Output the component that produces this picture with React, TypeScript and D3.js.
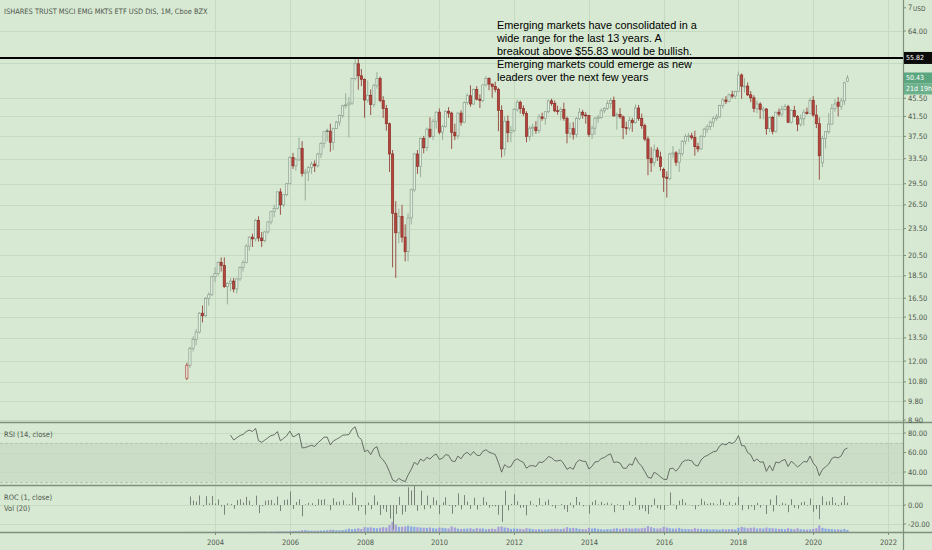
import { useEffect, useRef } from 'react';
import * as d3 from 'd3';

// 图表尺寸
const W = 932;
const H = 550;

const TITLE = 'ISHARES TRUST MSCI EMG MKTS ETF USD DIS, 1M, Cboe BZX';
const NOTE_LINES = [
  'Emerging markets have consolidated in a',
  'wide range for the last 13 years. A',
  'breakout above $55.83 would be bullish.',
  'Emerging markets could emerge as new',
  'leaders over the next few years',
];

const priceTicks = [8.9, 9.8, 10.8, 12, 13.5, 15, 16.5, 18.5, 20.5, 23.5, 26.5, 29.5, 33.5, 37.5, 41.5, 45.5, 54.5, 64];
const hiddenTicks = [54.5]; // 被价格标签遮住
const topTick = 72;
const rsiTicks = [40, 60, 80];
const rocTicks = [-20, 0];
const yearTicks = [2004, 2006, 2008, 2010, 2012, 2014, 2016, 2018, 2020, 2022];

const LEVEL = 55.82;
const LAST = 50.43;
const COUNTDOWN = '21d 19h';

// 月线从 2003 年 4 月开始
const FIRST_YEAR = 2003;
const FIRST_MONTH = 3;

// [open, high, low, close]
const ohlc: [number, number, number, number][] = [
  // 2003
  [11.0, 11.9, 10.9, 11.75], [11.75, 12.9, 11.6, 12.8], [12.8, 13.6, 12.6, 13.4], [13.4, 14.1, 13.0, 13.9],
  [13.9, 15.4, 13.8, 15.3], [15.3, 15.9, 14.6, 15.1], [15.1, 16.6, 15.0, 16.5], [16.5, 17.0, 15.9, 16.8],
  [16.8, 18.5, 16.7, 18.4],
  // 2004
  [18.4, 19.3, 17.9, 18.7], [18.7, 19.9, 18.5, 19.8], [19.8, 20.3, 18.9, 19.5], [19.5, 20.3, 17.4, 17.5],
  [17.5, 17.9, 16.0, 17.8], [17.8, 18.3, 17.1, 18.0], [18.0, 18.3, 17.0, 17.3], [17.3, 18.3, 16.9, 18.2],
  [18.2, 19.4, 18.0, 19.3], [19.3, 20.0, 18.9, 19.8], [19.8, 21.7, 19.7, 21.5], [21.5, 22.6, 21.0, 22.5],
  // 2005
  [22.5, 22.9, 21.4, 22.3], [22.3, 24.7, 22.0, 24.5], [24.5, 25.0, 22.0, 22.4], [22.4, 23.1, 21.4, 22.1],
  [22.1, 23.2, 21.9, 23.1], [23.1, 24.4, 22.9, 24.3], [24.3, 25.7, 24.0, 25.6], [25.6, 26.5, 24.9, 26.0],
  [26.0, 28.4, 25.9, 28.3], [28.3, 28.8, 25.2, 26.5], [26.5, 28.0, 26.2, 27.9], [27.9, 29.6, 27.7, 29.5],
  // 2006
  [29.5, 33.9, 29.4, 33.7], [33.7, 34.5, 31.8, 32.3], [32.3, 33.6, 31.5, 33.3], [33.3, 37.3, 33.1, 35.3],
  [35.3, 36.6, 30.6, 31.1], [31.1, 31.8, 27.1, 31.3], [31.3, 32.3, 29.9, 32.0], [32.0, 33.0, 31.0, 32.6],
  [32.6, 33.2, 31.3, 32.3], [32.3, 34.5, 32.0, 34.3], [34.3, 36.4, 33.6, 36.2], [36.2, 38.2, 35.4, 38.4],
  // 2007
  [38.6, 39.0, 36.6, 38.5], [38.5, 40.0, 34.7, 36.4], [36.4, 39.2, 35.0, 39.0], [39.0, 40.6, 38.9, 40.3],
  [40.3, 41.9, 39.6, 41.7], [41.7, 44.0, 41.2, 43.8], [43.8, 46.7, 43.2, 44.0], [44.0, 45.8, 37.3, 44.4],
  [44.4, 50.5, 44.0, 50.3], [50.3, 56.0, 49.8, 54.2], [54.2, 55.8, 47.5, 51.0], [51.0, 52.8, 48.4, 50.1],
  // 2008
  [50.1, 50.3, 41.2, 45.1], [45.1, 49.8, 44.5, 46.2], [46.2, 47.6, 41.8, 44.1], [44.1, 48.9, 43.5, 48.6],
  [48.6, 52.0, 47.8, 50.3], [50.3, 50.8, 44.6, 45.0], [45.0, 46.0, 41.2, 43.2], [43.2, 44.0, 38.6, 40.0],
  [40.0, 40.2, 31.3, 34.3], [34.3, 35.0, 19.3, 25.4], [25.4, 27.0, 18.3, 23.0], [23.0, 26.0, 21.8, 25.0],
  // 2009
  [25.0, 26.5, 21.9, 22.5], [22.5, 24.0, 19.9, 20.9], [20.9, 25.4, 19.9, 24.8], [24.8, 28.8, 24.0, 28.6],
  [28.6, 34.5, 28.3, 34.3], [34.3, 35.0, 31.0, 32.2], [32.2, 37.3, 30.5, 37.1], [37.1, 37.6, 34.4, 35.4],
  [35.4, 39.2, 34.8, 38.9], [38.9, 41.3, 37.2, 37.5], [37.5, 41.0, 36.8, 40.5], [40.5, 42.6, 39.0, 42.4],
  // 2010
  [42.4, 43.2, 37.9, 38.3], [38.3, 39.8, 36.8, 39.4], [39.4, 42.8, 39.2, 42.6], [42.6, 43.5, 41.2, 42.2],
  [42.2, 42.5, 35.2, 38.3], [38.3, 40.0, 36.8, 37.6], [37.6, 42.4, 37.0, 42.2], [42.2, 42.8, 39.6, 40.3],
  [40.3, 44.8, 40.1, 44.5], [44.5, 46.6, 44.0, 46.1], [46.1, 48.6, 43.6, 44.2], [44.2, 47.8, 44.0, 47.6],
  // 2011
  [47.6, 48.4, 45.0, 45.3], [45.3, 46.4, 43.3, 45.0], [45.0, 48.8, 44.6, 48.7], [48.7, 50.9, 48.3, 50.3],
  [50.3, 50.6, 47.4, 48.9], [48.9, 49.0, 45.6, 48.3], [48.3, 49.5, 46.9, 47.6], [47.6, 48.0, 38.5, 42.8],
  [42.8, 43.9, 33.7, 35.2], [35.2, 41.5, 34.0, 40.5], [40.5, 41.7, 36.4, 38.2], [38.2, 39.5, 36.4, 38.6],
  // 2012
  [38.6, 43.3, 38.3, 43.0], [43.0, 45.2, 42.5, 44.6], [44.6, 45.0, 42.1, 43.2], [43.2, 43.9, 41.6, 42.1],
  [42.1, 42.6, 36.4, 37.5], [37.5, 39.6, 36.7, 39.1], [39.1, 40.0, 37.5, 39.3], [39.3, 40.5, 38.0, 38.6],
  [38.6, 42.0, 38.1, 41.4], [41.4, 42.3, 40.6, 41.1], [41.1, 42.6, 39.8, 42.5], [42.5, 45.2, 42.2, 44.9],
  // 2013
  [44.9, 45.4, 43.8, 44.3], [44.3, 45.0, 42.4, 42.7], [42.7, 43.8, 41.9, 42.6], [42.6, 43.5, 40.7, 43.0],
  [43.0, 44.5, 40.6, 41.1], [41.1, 41.5, 36.2, 38.1], [38.1, 40.2, 37.2, 39.0], [39.0, 40.3, 36.9, 37.9],
  [37.9, 41.4, 37.3, 41.1], [41.1, 43.3, 40.7, 42.4], [42.4, 42.9, 41.0, 41.8], [41.8, 42.4, 40.0, 41.7],
  // 2014
  [41.7, 41.8, 37.4, 37.9], [37.9, 39.6, 37.0, 39.1], [39.1, 41.4, 37.8, 41.1], [41.1, 41.8, 40.2, 41.3],
  [41.3, 43.2, 41.0, 42.7], [42.7, 43.5, 42.2, 43.2], [43.2, 45.0, 42.9, 44.3], [44.3, 45.6, 43.2, 45.0],
  [45.0, 45.9, 41.5, 41.6], [41.6, 42.3, 38.8, 41.9], [41.9, 43.3, 41.0, 41.4], [41.4, 41.7, 37.0, 39.2],
  // 2015
  [39.2, 40.4, 37.8, 39.1], [39.1, 41.4, 38.6, 40.7], [40.7, 41.2, 38.4, 40.2], [40.2, 44.1, 40.0, 43.3],
  [43.3, 44.0, 40.6, 41.1], [41.1, 42.1, 39.0, 39.6], [39.6, 40.0, 36.6, 37.0], [37.0, 37.5, 30.8, 33.5],
  [33.5, 35.5, 31.3, 32.8], [32.8, 36.0, 32.2, 35.0], [35.0, 35.5, 33.1, 33.8], [33.8, 34.7, 31.5, 32.2],
  // 2016
  [31.7, 32.0, 28.3, 30.5], [30.5, 31.4, 27.5, 30.3], [30.3, 34.5, 30.0, 34.3], [34.3, 35.7, 33.6, 34.5],
  [34.5, 34.8, 32.3, 32.9], [32.9, 35.2, 31.3, 34.4], [34.4, 36.8, 33.9, 36.6], [36.6, 38.0, 36.0, 37.5],
  [37.5, 38.2, 36.5, 37.6], [37.6, 38.2, 36.9, 37.3], [37.3, 38.6, 34.0, 35.6], [35.6, 36.3, 34.6, 35.2],
  // 2017
  [35.2, 37.8, 35.0, 37.5], [37.5, 39.2, 37.3, 38.9], [38.9, 39.8, 38.2, 39.4], [39.4, 40.6, 38.7, 40.3],
  [40.3, 41.5, 39.3, 41.1], [41.1, 42.0, 40.6, 41.4], [41.4, 44.0, 41.2, 43.9], [43.9, 45.6, 43.2, 45.1],
  [45.1, 46.0, 44.2, 44.8], [44.8, 46.6, 44.6, 46.3], [46.3, 47.3, 45.5, 46.0], [46.0, 47.3, 45.4, 47.1],
  // 2018
  [47.1, 52.1, 47.0, 51.2], [51.2, 51.6, 45.4, 48.4], [48.2, 50.4, 46.9, 48.4], [48.4, 49.3, 46.0, 46.3],
  [46.3, 47.2, 44.6, 45.6], [45.6, 46.2, 42.4, 43.2], [43.2, 45.0, 42.2, 44.2], [44.2, 44.6, 41.0, 43.0],
  [42.7, 43.6, 40.9, 43.1], [43.1, 43.3, 37.8, 39.0], [39.0, 41.5, 38.3, 41.3], [41.3, 41.6, 37.9, 38.5],
  // 2019
  [38.5, 42.5, 38.2, 42.4], [42.4, 43.2, 41.5, 42.0], [42.0, 43.8, 41.4, 43.0], [43.0, 44.2, 42.8, 43.6],
  [43.6, 44.0, 40.1, 40.3], [40.3, 43.0, 40.0, 42.8], [42.8, 43.8, 41.3, 41.5], [41.5, 41.8, 38.5, 39.9],
  [39.9, 41.9, 39.4, 41.0], [41.0, 43.0, 39.6, 42.4], [42.4, 43.4, 41.9, 42.1], [42.1, 45.6, 42.0, 45.0],
  // 2020
  [45.0, 46.0, 41.4, 41.8], [41.8, 44.0, 39.1, 40.0], [40.0, 41.3, 30.1, 34.0], [32.8, 37.6, 32.1, 37.1],
  [37.1, 38.5, 35.3, 38.4], [38.4, 42.2, 38.0, 39.9], [39.9, 44.2, 39.9, 43.2], [43.2, 45.3, 42.5, 44.2],
  [44.6, 45.8, 41.5, 43.7], [43.7, 45.6, 42.9, 44.9], [44.9, 49.5, 44.0, 49.2], [49.6, 51.2, 49.4, 50.43],
];

// 月成交量（百万股）
const volume = [
  20, 25, 30, 28, 32, 40, 38, 35, 40,
  55, 60, 65, 90, 80, 60, 55, 50, 60, 65, 70, 75,
  90, 110, 130, 120, 110, 100, 130, 150, 160, 220, 180, 170,
  260, 280, 300, 330, 520, 560, 420, 380, 360, 400, 420, 450,
  520, 640, 620, 500, 520, 560, 700, 980, 800, 900, 1100, 880,
  1400, 1300, 1350, 1200, 1100, 1250, 1400, 1300, 2000, 2900, 2100, 1500,
  1500, 1600, 1800, 1600, 1500, 1400, 1300, 1250, 1200, 1300, 1100, 1000,
  1300, 1200, 1100, 1000, 1600, 1300, 1000, 900, 950, 1000, 1100, 850,
  1100, 1000, 1050, 800, 900, 950, 850, 1500, 1600, 1300, 1200, 900,
  1000, 950, 900, 800, 1100, 1000, 850, 750, 850, 700, 750, 800,
  900, 950, 900, 850, 1000, 1400, 1100, 1200, 1100, 900, 850, 800,
  1200, 1000, 1100, 900, 800, 750, 850, 800, 1000, 1100, 900, 1000,
  1100, 1000, 1000, 1100, 1000, 1100, 1200, 1700, 1400, 1100, 1000, 1050,
  1500, 1300, 1100, 1000, 1000, 1200, 900, 900, 850, 800, 1100, 950,
  900, 800, 850, 750, 800, 750, 700, 850, 750, 800, 850, 700,
  1200, 1500, 1300, 1100, 1200, 1300, 1000, 1100, 1000, 1300, 1100, 1100,
  1000, 900, 900, 800, 1100, 900, 800, 1100, 800, 750, 700, 750,
  900, 1100, 1900, 1200, 1000, 900, 850, 750, 800, 700, 900, 600,
];

const BG = '#d7e9d2';
const GRID = '#c4dbbf';
const SEP = '#7f907d';
const TEXT = '#4f574f';
const UP = '#8a9f8d';
const UP_FILL = '#e3eedf';
const DOWN = '#b5443b';
const DOWN_EDGE = '#8a2e28';
const UI_FONT = "'Liberation Sans Narrow', 'DejaVu Sans Condensed', sans-serif";
const NOTE_FONT = "'Liberation Sans', Arial, sans-serif";

// Wilder RSI
function rsi(closes: number[], period: number) {
  const out: (number | null)[] = closes.map(() => null);
  let g = 0, l = 0;
  for (let i = 1; i <= period; i++) {
    const d = closes[i] - closes[i - 1];
    if (d > 0) g += d; else l -= d;
  }
  g /= period; l /= period;
  out[period] = 100 - 100 / (1 + g / l);
  for (let i = period + 1; i < closes.length; i++) {
    const d = closes[i] - closes[i - 1];
    g = (g * (period - 1) + Math.max(d, 0)) / period;
    l = (l * (period - 1) + Math.max(-d, 0)) / period;
    out[i] = l === 0 ? 100 : 100 - 100 / (1 + g / l);
  }
  return out;
}

export default function App() {
  const svgRef = useRef<SVGSVGElement>(null);

  useEffect(() => {
    if (!svgRef.current) return;
    const svg = d3.select(svgRef.current);
    svg.selectAll('*').remove();

    const axisX = 903;
    const mainB = 422;
    const rsiT = 422, rsiB = 485;
    const rocT = 486, rocB = 532;

    const closes = ohlc.map(d => d[3]);
    const dates = ohlc.map((_, i) => new Date(FIRST_YEAR, FIRST_MONTH + i, 1));

    const x = d3.scaleTime()
      .domain([new Date(2004, 0, 1), new Date(2022, 0, 1)])
      .range([215, 888]);
    const y = d3.scaleLog().domain([8.9, 64]).range([420, 31]);
    const yRsi = d3.scaleLinear().domain([40, 80]).range([472, 433]);
    const yRoc = d3.scaleLinear().domain([-20, 0]).range([524, 505]);
    const yVol = d3.scaleLinear().domain([0, d3.max(volume) || 1]).range([rocB, rocB - 10]);

    svg.append('rect').attr('width', W).attr('height', H).attr('fill', BG);

    const defs = svg.append('defs');
    const clip = (id: string, y0: number, y1: number) =>
      defs.append('clipPath').attr('id', id).append('rect')
        .attr('x', 0).attr('y', y0).attr('width', axisX).attr('height', y1 - y0);
    clip('c-main', 0, mainB);
    clip('c-rsi', rsiT, rsiB);
    clip('c-roc', rocT, rocB);

    // 竖向网格
    svg.append('g').selectAll('line').data(yearTicks).enter().append('line')
      .attr('x1', d => Math.round(x(new Date(d, 0, 1))) + 0.5)
      .attr('x2', d => Math.round(x(new Date(d, 0, 1))) + 0.5)
      .attr('y1', 0).attr('y2', rocB)
      .attr('stroke', GRID).attr('stroke-width', 1);

    // 价格网格
    svg.append('g').selectAll('line').data(priceTicks).enter().append('line')
      .attr('x1', 0).attr('x2', axisX)
      .attr('y1', d => Math.round(y(d)) + 0.5).attr('y2', d => Math.round(y(d)) + 0.5)
      .attr('stroke', GRID);

    // RSI 背景带
    svg.append('rect')
      .attr('x', 0).attr('width', axisX)
      .attr('y', yRsi(70)).attr('height', yRsi(30) - yRsi(70))
      .attr('fill', 'rgba(110,120,110,0.10)');
    [70, 30].forEach(v => {
      svg.append('line').attr('x1', 0).attr('x2', axisX)
        .attr('y1', Math.round(yRsi(v)) + 0.5).attr('y2', Math.round(yRsi(v)) + 0.5)
        .attr('stroke', '#b4c6b0').attr('stroke-dasharray', '3,2');
    });
    svg.append('g').selectAll('line').data(rsiTicks).enter().append('line')
      .attr('x1', 0).attr('x2', axisX)
      .attr('y1', d => Math.round(yRsi(d)) + 0.5).attr('y2', d => Math.round(yRsi(d)) + 0.5)
      .attr('stroke', GRID);
    svg.append('g').selectAll('line').data(rocTicks).enter().append('line')
      .attr('x1', 0).attr('x2', axisX)
      .attr('y1', d => Math.round(yRoc(d)) + 0.5).attr('y2', d => Math.round(yRoc(d)) + 0.5)
      .attr('stroke', GRID);

    // 蜡烛
    const main = svg.append('g').attr('clip-path', 'url(#c-main)');
    ohlc.forEach(([o, h, l, c], i) => {
      const cx = x(dates[i]);
      const prev = i > 0 ? closes[i - 1] : Infinity;
      const up = c >= prev;
      const hollow = c > o;
      const col = up ? UP : DOWN;
      main.append('line')
        .attr('x1', cx).attr('x2', cx)
        .attr('y1', y(h)).attr('y2', y(l))
        .attr('stroke', up ? UP : DOWN_EDGE).attr('stroke-width', 0.8);
      const top = y(Math.max(o, c));
      const bh = Math.max(0.8, y(Math.min(o, c)) - top);
      main.append('rect')
        .attr('x', cx - 1.1).attr('width', 2.2)
        .attr('y', top).attr('height', bh)
        .attr('fill', hollow ? UP_FILL : (up ? '#6f8573' : DOWN))
        .attr('stroke', hollow ? col : (up ? '#5f7463' : DOWN_EDGE))
        .attr('stroke-width', 0.7);
    });

    // 55.82 水平线
    svg.append('line')
      .attr('x1', 0).attr('x2', axisX)
      .attr('y1', y(LEVEL)).attr('y2', y(LEVEL))
      .attr('stroke', '#000').attr('stroke-width', 2);

    // RSI 线
    const rsiVals = rsi(closes, 14);
    const rsiPts = rsiVals.map((v, i) => ({ v, i })).filter(d => d.v !== null) as { v: number; i: number }[];
    svg.append('path')
      .datum(rsiPts)
      .attr('clip-path', 'url(#c-rsi)')
      .attr('fill', 'none')
      .attr('stroke', '#5a605a')
      .attr('stroke-width', 0.9)
      .attr('d', d3.line<{ v: number; i: number }>().x(d => x(dates[d.i])).y(d => yRsi(d.v)));

    // 成交量与 ROC
    const roc = svg.append('g').attr('clip-path', 'url(#c-roc)');
    ohlc.forEach(([, , , c], i) => {
      const cx = x(dates[i]);
      const up = i === 0 || c >= closes[i - 1];
      roc.append('rect')
        .attr('x', cx - 1.1).attr('width', 2.2)
        .attr('y', yVol(volume[i])).attr('height', rocB - yVol(volume[i]))
        .attr('fill', up ? '#7d9be6' : '#9d8fdc').attr('opacity', 0.85);
    });
    ohlc.forEach(([, , , c], i) => {
      if (i === 0) return;
      const v = (c - closes[i - 1]) / closes[i - 1] * 100;
      const cx = Math.round(x(dates[i])) + 0.5;
      roc.append('line')
        .attr('x1', cx).attr('x2', cx)
        .attr('y1', yRoc(0)).attr('y2', yRoc(v))
        .attr('stroke', '#7a837a').attr('stroke-width', 1);
    });

    // 分隔线
    [mainB, rsiB, rocB].forEach(yy => {
      svg.append('line').attr('x1', 0).attr('x2', W).attr('y1', yy + 0.5).attr('y2', yy + 0.5)
        .attr('stroke', SEP).attr('stroke-width', 1.3);
    });
    svg.append('line').attr('x1', axisX + 0.5).attr('x2', axisX + 0.5).attr('y1', 0).attr('y2', H)
      .attr('stroke', SEP).attr('stroke-width', 1.2);

    // 右侧刻度
    const tickMark = (yy: number) =>
      svg.append('line').attr('x1', axisX).attr('x2', axisX + 3).attr('y1', yy).attr('y2', yy).attr('stroke', SEP);
    const rightLabel = (yy: number, txt: string) => {
      tickMark(yy);
      svg.append('text').attr('x', axisX + 5).attr('y', yy + 2.6)
        .attr('font-family', UI_FONT).attr('font-size', 7.5).attr('fill', TEXT).text(txt);
    };
    priceTicks.forEach(t => hiddenTicks.includes(t) ? tickMark(y(t)) : rightLabel(y(t), t.toFixed(2)));
    rsiTicks.forEach(t => rightLabel(yRsi(t), t.toFixed(2)));
    rocTicks.forEach(t => rightLabel(yRoc(t), t.toFixed(2)));

    // 顶部刻度被 USD 标签遮住，只露出首位数字
    tickMark(y(topTick));
    svg.append('text').attr('x', axisX + 5).attr('y', y(topTick) + 2.6)
      .attr('font-family', UI_FONT).attr('font-size', 7.5).attr('fill', TEXT)
      .text(String(topTick).charAt(0));
    svg.append('text').attr('x', axisX + 10).attr('y', 11)
      .attr('font-family', UI_FONT).attr('font-size', 6.5).attr('fill', TEXT).text('USD');

    // 价格标签框
    const tag = (yy: number, h: number, txt: string, fill: string) => {
      svg.append('rect').attr('x', axisX + 1).attr('y', yy - h / 2).attr('width', 28).attr('height', h).attr('fill', fill);
      svg.append('text').attr('x', axisX + 3).attr('y', yy + 2.5)
        .attr('font-family', UI_FONT).attr('font-size', 7).attr('fill', '#fff').text(txt);
    };
    tag(y(LEVEL), 12, LEVEL.toFixed(2), '#0b0b0b');
    tag(y(LAST), 11, LAST.toFixed(2), '#5ba67f');
    tag(y(LAST) + 11, 11, COUNTDOWN, '#6cb08c');

    // X 轴
    yearTicks.forEach(yr => {
      const xx = Math.round(x(new Date(yr, 0, 1))) + 0.5;
      svg.append('line').attr('x1', xx).attr('x2', xx).attr('y1', rocB).attr('y2', rocB + 3).attr('stroke', SEP);
      svg.append('text').attr('x', xx).attr('y', 545)
        .attr('text-anchor', 'middle')
        .attr('font-family', UI_FONT).attr('font-size', 7.5).attr('fill', TEXT).text(String(yr));
    });

    // 标题与图例
    const uiText = (xx: number, yy: number, txt: string, size = 7.5) =>
      svg.append('text').attr('x', xx).attr('y', yy)
        .attr('font-family', UI_FONT).attr('font-size', size).attr('fill', TEXT).text(txt);
    uiText(4, 14, TITLE, 7.4);
    uiText(4, 437, 'RSI (14, close)');
    uiText(4, 500, 'ROC (1, close)');
    uiText(4, 511, 'Vol (20)');

    // 注释文字
    const note = svg.append('text')
      .attr('font-family', NOTE_FONT).attr('font-size', 10.9).attr('fill', '#000');
    NOTE_LINES.forEach((ln, i) => {
      note.append('tspan').attr('x', 497).attr('y', 29 + i * 12.9).text(ln);
    });
  }, []);

  return (
    <div style={{ position: 'absolute', left: 0, top: 0, width: W, height: H }}>
      <svg ref={svgRef} width={W} height={H} style={{ display: 'block' }} />
    </div>
  );
}
